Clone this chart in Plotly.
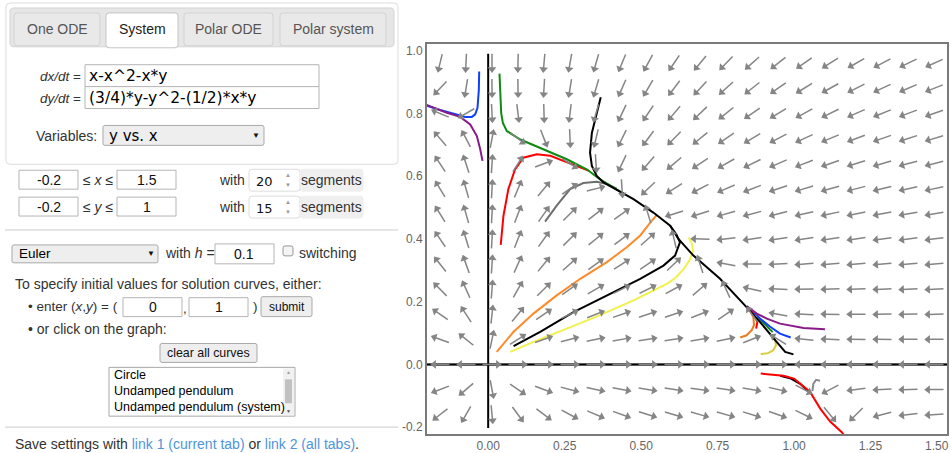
import numpy as np
import plotly.graph_objects as go

W, H = 952, 453

# ---------------- data ----------------
dxdt_text = "x-x^2-x*y"
dydt_text = "(3/4)*y-y^2-(1/2)*x*y"
x_min, x_max, x_segments = -0.2, 1.5, 20
y_min, y_max, y_segments = -0.2, 1.0, 15

x_ticks = [0.0, 0.25, 0.5, 0.75, 1.0, 1.25]
x_tick_labels = ["0.00", "0.25", "0.50", "0.75", "1.00", "1.25"]
x_last_tick_label = "1.50"   # sits at the right edge of the page
y_ticks = [-0.2, 0.0, 0.2, 0.4, 0.6, 0.8, 1.0]
y_tick_labels = ["-0.2", "0.0", "0.2", "0.4", "0.6", "0.8", "1.0"]

# solution curves
gray_x = [0.186, 0.224, 0.268, 0.311, 0.355, 0.388, 0.42]
gray_y = [0.455, 0.506, 0.559, 0.578, 0.582, 0.575, 0.56]
gray2_x = [1.060, 1.063, 1.072, 1.085]
gray2_y = [-0.085, -0.062, -0.049, -0.052]

orange_x = [0.028, 0.083, 0.148, 0.224, 0.301, 0.388, 0.455, 0.497, 0.535, 0.55]
orange_y = [0.040, 0.104, 0.162, 0.220, 0.273, 0.326, 0.375, 0.411, 0.458, 0.475]
orange2_x = [0.824, 0.845, 0.862, 0.869, 0.867, 0.856, 0.845]
orange2_y = [0.086, 0.093, 0.110, 0.125, 0.151, 0.172, 0.185]

yellow_x = [0.072, 0.148, 0.257, 0.366, 0.475, 0.584, 0.615, 0.640, 0.660, 0.670, 0.666, 0.655]
yellow_y = [0.040, 0.072, 0.114, 0.157, 0.204, 0.257, 0.278, 0.305, 0.335, 0.362, 0.385, 0.405]
yellow2_x = [0.891, 0.915, 0.932, 0.941, 0.938, 0.925]
yellow2_y = [0.033, 0.036, 0.045, 0.061, 0.077, 0.092]

red_x = [0.041, 0.050, 0.066, 0.088, 0.115, 0.159, 0.203, 0.246, 0.290, 0.33]
red_y = [0.381, 0.474, 0.559, 0.622, 0.659, 0.670, 0.665, 0.649, 0.633, 0.617]
red2_x = [0.876, 0.880, 0.873, 0.862]
red2_y = [0.114, 0.135, 0.151, 0.170]

green_x = [0.037, 0.039, 0.0425, 0.048, 0.061, 0.105, 0.181, 0.257, 0.322, 0.366, 0.45]
green_y = [0.927, 0.855, 0.802, 0.770, 0.744, 0.717, 0.686, 0.654, 0.622, 0.590, 0.54]
green2_x = [0.93, 0.905, 0.88]
green2_y = [0.103, 0.128, 0.152]

blue_x = [-0.0294, -0.0305, -0.0349, -0.0425, -0.0534, -0.0752, -0.0915, -0.124, -0.157, -0.195, -0.21]
blue_y = [0.934, 0.876, 0.818, 0.797, 0.789, 0.789, 0.794, 0.802, 0.811, 0.823, 0.828]
blue2_x = [0.989, 0.954, 0.922, 0.889, 0.87]
blue2_y = [0.086, 0.098, 0.120, 0.146, 0.165]

purple_x = [-0.21, -0.195, -0.135, -0.0915, -0.0588, -0.037, -0.026, -0.0185]
purple_y = [0.830, 0.825, 0.802, 0.789, 0.765, 0.728, 0.686, 0.649]
purple2_x = [1.101, 1.031, 0.954, 0.911, 0.878, 0.856, 0.845]
purple2_y = [0.112, 0.116, 0.130, 0.146, 0.162, 0.178, 0.186]

black_x = [0.368, 0.355, 0.339, 0.333, 0.339, 0.355, 0.377, 0.475, 0.540, 0.595, 0.622,
           0.671, 0.758, 0.834, 0.889, 0.943, 0.971, 0.998]
black_y = [0.852, 0.802, 0.738, 0.675, 0.633, 0.601, 0.580, 0.527, 0.484, 0.442, 0.400,
           0.347, 0.273, 0.194, 0.135, 0.072, 0.040, 0.032]
black2_x = [0.083, 0.170, 0.279, 0.388, 0.497, 0.573, 0.611, 0.627, 0.615, 0.595]
black2_y = [0.058, 0.104, 0.167, 0.220, 0.273, 0.315, 0.347, 0.389, 0.415, 0.442]
black3_x = [0.955, 0.99, 1.02, 1.045]
black3_y = [-0.036, -0.045, -0.062, -0.085]
red3_x = [0.891, 0.965, 1.000, 1.020, 1.052, 1.085, 1.118, 1.156, 1.17]
red3_y = [-0.029, -0.036, -0.045, -0.060, -0.087, -0.140, -0.182, -0.216, -0.235]
blackv_x = [0.0, 0.0]
blackv_y = [0.99, -0.203]
blackh_x = [-0.2, 1.5]
blackh_y = [0.0, 0.0]

# ---------------- layout geometry (pixels) ----------------
PX0, PX1 = 427, 947
PY0, PY1 = 44, 436
Y_LO, Y_HI = -0.222, 1.022
sx = (PX1 - PX0) / (x_max - x_min)
sy = (PY1 - PY0) / (Y_HI - Y_LO)

fig = go.Figure()

fig.add_trace(go.Scatter(x=[x_min, x_max], y=[0, 0], mode="lines",
                         line=dict(color="#7a7a7a", width=3), hoverinfo="skip", showlegend=False))

def curve(xs, ys, color, w=2):
    fig.add_trace(go.Scatter(x=xs, y=ys, mode="lines", line=dict(color=color, width=w),
                             hoverinfo="skip", showlegend=False))

curve(blackh_x, blackh_y, "#000000", 1.5)
curve(blackv_x, blackv_y, "#000000", 2)
curve(gray_x, gray_y, "#6e6e6e")
curve(gray2_x, gray2_y, "#8a8a8a")
curve(orange_x, orange_y, "#ff8a2a")
curve(orange2_x, orange2_y, "#f07a20")
curve(yellow_x, yellow_y, "#f2f04a")
curve(yellow2_x, yellow2_y, "#d8cc3a")
curve(red_x, red_y, "#ff0000")
curve(red2_x, red2_y, "#ff0000")
curve(green_x, green_y, "#108a10")
curve(green2_x, green2_y, "#108a10")
curve(blue_x, blue_y, "#1040ff")
curve(blue2_x, blue2_y, "#1040ff")
curve(purple_x, purple_y, "#8a1a8a")
curve(purple2_x, purple2_y, "#8a1a8a")
curve(black_x, black_y, "#000000")
curve(black2_x, black2_y, "#000000")
curve(black3_x, black3_y, "#000000")
curve(red3_x, red3_y, "#ff0000")

# ---------------- direction field from the displayed ODE ----------------
fx = dxdt_text.replace("^", "**")
fy = dydt_text.replace("^", "**")
gx = np.array([x_min + (i + 0.5) * (x_max - x_min) / x_segments for i in range(x_segments)])
gy = np.array([y_min + (j + 0.5) * (y_max - y_min) / y_segments for j in range(y_segments)])
X, Y = np.meshgrid(gx, gy)
U = eval(fx, {}, {"x": X, "y": Y}) * sx
V = eval(fy, {}, {"x": X, "y": Y}) * sy
N = np.hypot(U, V)
N[N == 0] = 1
U, V = U / N, V / N
L = 19.0
sx_list, sy_list, hx, hy, ang = [], [], [], [], []
for cx, cy, ux, uy in zip(X.ravel(), Y.ravel(), U.ravel(), V.ravel()):
    tx, ty = cx - (L / 2) * ux / sx, cy - (L / 2) * uy / sy
    ex, ey = cx + (L / 2 - 4) * ux / sx, cy + (L / 2 - 4) * uy / sy
    sx_list += [tx, ex, None]
    sy_list += [ty, ey, None]
    hx.append(cx + (L / 2 - 3.5) * ux / sx)
    hy.append(cy + (L / 2 - 3.5) * uy / sy)
    ang.append(float(np.degrees(np.arctan2(ux, uy))))

fig.add_trace(go.Scatter(x=sx_list, y=sy_list, mode="lines", line=dict(color="#858585", width=1.5),
                         hoverinfo="skip", showlegend=False))
fig.add_trace(go.Scatter(x=hx, y=hy, mode="markers",
                         marker=dict(symbol="triangle-up", size=7.5, angle=ang, color="#858585",
                                     line=dict(width=0)),
                         hoverinfo="skip", showlegend=False, cliponaxis=True))

fig.update_xaxes(domain=[PX0 / W, PX1 / W], range=[x_min, x_max], tickvals=x_ticks, ticktext=x_tick_labels,
                 showgrid=False, zeroline=False, showline=True, mirror=True, linecolor="#7a7a7a",
                 linewidth=2, ticks="",
                 tickfont=dict(family="Liberation Sans", size=12, color="#666"))
fig.update_yaxes(domain=[1 - PY1 / H, 1 - PY0 / H], range=[Y_LO, Y_HI], tickvals=y_ticks, ticktext=y_tick_labels,
                 showgrid=False, zeroline=False, showline=True, mirror=True, linecolor="#7a7a7a",
                 linewidth=2, ticks="",
                 tickfont=dict(family="Liberation Sans", size=12, color="#666"))

# ---------------- left UI panel ----------------
shapes, annos = [], []

def P(x, y):
    return f"{x / W:.5f},{1 - y / H:.5f}"

def rrect(x0, y0, x1, y1, fill, line="#aaaaaa", lw=1, r=0):
    if r <= 0:
        shapes.append(dict(type="rect", xref="paper", yref="paper", x0=x0 / W, x1=x1 / W,
                           y0=1 - y1 / H, y1=1 - y0 / H, fillcolor=fill,
                           line=dict(color=line, width=lw)))
        return
    path = (f"M {P(x0 + r, y0)} L {P(x1 - r, y0)} Q {P(x1, y0)} {P(x1, y0 + r)} "
            f"L {P(x1, y1 - r)} Q {P(x1, y1)} {P(x1 - r, y1)} L {P(x0 + r, y1)} "
            f"Q {P(x0, y1)} {P(x0, y1 - r)} L {P(x0, y0 + r)} Q {P(x0, y0)} {P(x0 + r, y0)} Z")
    shapes.append(dict(type="path", xref="paper", yref="paper", path=path, fillcolor=fill,
                       line=dict(color=line, width=lw)))

def hline(x0, x1, y, color="#cccccc", lw=1):
    shapes.append(dict(type="line", xref="paper", yref="paper", x0=x0 / W, x1=x1 / W,
                       y0=1 - y / H, y1=1 - y / H, line=dict(color=color, width=lw)))

def text(x, y, s, anchor="left", size=13.5, color="#333333", family="Liberation Sans"):
    annos.append(dict(x=x / W, y=1 - y / H, xref="paper", yref="paper", text=s, showarrow=False,
                      xanchor=anchor, yanchor="middle", font=dict(family=family, size=size, color=color)))

# last x tick label, kept inside the page
text(951, 448, x_last_tick_label, "right", 12, "#666666")

# panel
rrect(6, 3, 398, 165, "#ffffff", "#dddddd", 1, 4)
rrect(10, 8, 394, 47, "#e6e6e6", "#d3d3d3", 1, 4)
rrect(14, 13, 100, 46, "#e9e9e9", "#d3d3d3", 1, 3)
rrect(106, 13, 178, 48, "#ffffff", "#c5c5c5", 1, 3)
rrect(184, 13, 273, 46, "#e9e9e9", "#d3d3d3", 1, 3)
rrect(280, 13, 386, 46, "#e9e9e9", "#d3d3d3", 1, 3)
text(57, 29.5, "One ODE", "center", 14, "#555555")
text(142, 29.5, "System", "center", 14, "#222222")
text(228.5, 29.5, "Polar ODE", "center", 14, "#555555")
text(333, 29.5, "Polar system", "center", 14, "#555555")

rrect(85, 65, 319, 87, "#ffffff", "#b5b5b5")
rrect(85, 87, 319, 109, "#ffffff", "#b5b5b5")
text(83, 76.5, "<i>dx/dt</i> =", "right", 13.5, "#333333")
text(83, 98.5, "<i>dy/dt</i> =", "right", 13.5, "#333333")
text(87, 76.5, dxdt_text, "left", 15.5, "#000000", "DejaVu Sans")
text(87, 98.5, dydt_text, "left", 15.5, "#000000", "DejaVu Sans")

text(99, 137, "Variables:", "right", 14, "#333333")
rrect(103, 126, 264, 146, "#eeeeee", "#a9a9a9", 1, 2)
text(107, 136.5, "y vs. x", "left", 15, "#000000", "DejaVu Sans")
text(256, 136, "▼", "center", 8, "#111111")

for yy, lab, lo, hi, seg in [(181, "x", "-0.2", "1.5", "20"), (208, "y", "-0.2", "1", "15")]:
    rrect(19, yy - 10, 78, yy + 9, "#ffffff", "#b5b5b5")
    rrect(117, yy - 10, 176, yy + 9, "#ffffff", "#b5b5b5")
    text(48.5, yy, lo, "center", 14, "#111111")
    text(146.5, yy, hi, "center", 14, "#111111")
    text(97.5, yy, f"≤ <i>{lab}</i> ≤", "center", 14, "#333333")
    text(232, yy, "with", "center", 14, "#333333")
    rrect(249, yy - 11, 300, yy + 11, "#ffffff", "#dddddd", 1, 3)
    rrect(300, yy - 11, 363, yy + 11, "#efefef", "#efefef", 1, 3)
    text(254, yy + 1, seg, "left", 13, "#111111", "DejaVu Sans")
    text(288, yy - 5, "▲", "center", 6, "#999999")
    text(288, yy + 5, "▼", "center", 6, "#999999")
    text(331, yy, "segments", "center", 14, "#333333")

hline(5, 398, 231)
rrect(12, 246, 158, 264, "#eeeeee", "#a9a9a9", 1, 2)
text(17, 255, "Euler", "left", 13.5, "#000000")
text(151, 255, "▼", "center", 8, "#111111")
text(163, 254.5, "with <i>h</i> =", "left", 14, "#333333")
rrect(215, 245, 274, 265, "#ffffff", "#b5b5b5")
text(244.5, 255, "0.1", "center", 14, "#111111")
rrect(283, 247, 293, 257, "#f4f4f4", "#999999", 1, 2)
text(297, 254.5, "switching", "left", 14, "#333333")

text(13, 285, "To specify initial values for solution curves, either:", "left", 14, "#333333")
text(26, 308, "• enter (<i>x</i>,<i>y</i>) = (", "left", 13.5, "#333333")
rrect(123, 299, 182, 318, "#ffffff", "#b5b5b5")
text(152.5, 308.5, "0", "center", 14, "#111111")
text(185, 310, ",", "center", 13.5, "#333333")
rrect(189, 299, 248, 318, "#ffffff", "#b5b5b5")
text(218.5, 308.5, "1", "center", 14, "#111111")
text(255, 308, ")", "center", 13.5, "#333333")
rrect(261, 298, 312, 318, "#eeeeee", "#a9a9a9", 1, 2)
text(286.5, 308, "submit", "center", 12, "#111111")
text(26, 330, "• or click on the graph:", "left", 14, "#333333")
rrect(160, 345, 257, 364, "#eeeeee", "#a9a9a9", 1, 2)
text(208.5, 354.5, "clear all curves", "center", 12.4, "#111111")

rrect(109, 369, 295, 418, "#ffffff", "#a9a9a9")
rrect(283, 370, 294, 417, "#f1f1f1", "#f1f1f1", 0)
rrect(285, 381, 292, 405, "#c1c1c1", "#c1c1c1", 0)
text(288.5, 374, "▲", "center", 5, "#a0a0a0")
text(288.5, 413, "▼", "center", 5, "#505050")
text(112, 377, "Circle", "left", 12.5, "#000000")
text(112, 393, "Undamped pendulum", "left", 12.5, "#000000")
text(112, 409, "Undamped pendulum (system)", "left", 12.5, "#000000")
hline(5, 398, 429)
text(13, 446, "Save settings with <span style='color:#4f94dc'>link 1 (current tab)</span> or "
              "<span style='color:#4f94dc'>link 2 (all tabs)</span>.", "left", 14, "#333333")

fig.update_layout(width=W, height=H, margin=dict(l=0, r=0, t=0, b=0), autosize=False,
                  paper_bgcolor="white", plot_bgcolor="white", showlegend=False,
                  shapes=shapes, annotations=annos)

fig.write_html("out.html", config={"displayModeBar": False},
               post_script=("document.documentElement.style.overflow='hidden';"
                            "document.body.style.overflow='hidden';"
                            "document.body.style.margin='0px';document.body.style.padding='0px';"))
